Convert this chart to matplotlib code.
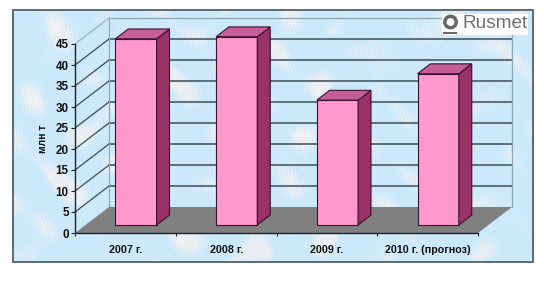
import numpy as np
import matplotlib
matplotlib.use("Agg")
import matplotlib.pyplot as plt
from matplotlib.patches import Polygon, Rectangle, Circle

categories = ["2007 г.", "2008 г.", "2009 г.", "2010 г. (прогноз)"]
values = [44.3, 44.8, 29.7, 36.0]
y_ticks = [0, 5, 10, 15, 20, 25, 30, 35, 40, 45]
y_label = "млн т"

W, H = 544, 282
plt.rcParams["font.family"] = ["Liberation Sans", "DejaVu Sans"]
fig = plt.figure(figsize=(W / 100, H / 100), dpi=100, facecolor="white")

# layout helper axes in pixel coordinates
bg = fig.add_axes([0, 0, 1, 1], zorder=0)
bg.set_xlim(0, W); bg.set_ylim(H, 0); bg.axis("off")

# mottled backdrop (deterministic sine texture)
L, T, R, B = 13, 10, 533, 262
yy, xx = np.mgrid[T:B, L:R].astype(float)
tex = (np.sin(xx * .083 + 1.3 + 2.2 * np.sin(yy * .047)) + np.sin(yy * .121 + 2.6 * np.sin(xx * .053 + .7))
       + .8 * np.sin((xx + yy) * .037 + 5 * np.sin(xx * .019)) + .6 * np.sin((xx - yy) * .091))
speck = np.sin(xx * 1.37 + yy * 2.11) * np.sin(xx * 2.93 - yy * 1.73 + 1)
m = np.clip((tex + 1.1 * speck - 0.9) / 1.2, 0, 1)[..., None]
base = np.array([0.80, 0.915, 0.985]); white = np.array([0.93, 0.94, 0.95])
bg.imshow(base * (1 - m) + white * m, extent=(L, R, B, T), aspect="auto", zorder=0, interpolation="bilinear")
bg.set_xlim(0, W); bg.set_ylim(H, 0)
bg.add_patch(Rectangle((L, T), R - L, B - T, fill=False, ec="#5b6b72", lw=1.4, zorder=3))

# main chart axes: x spans 75..478 px, y 233..44 px
x0, x1, y0, y1 = 75, 478, 233, 44
ax = fig.add_axes([x0 / W, 1 - y0 / H, (x1 - x0) / W, (y0 - y1) / H], zorder=1)
ax.patch.set_alpha(0)
n = len(categories)
ymax = y_ticks[-1]
ax.set_xlim(0, n); ax.set_ylim(0, ymax)

# oblique projection: depth 0 = front, 1 = back wall
DX = 34 / ((x1 - x0) / n)
DY = 26 / ((y0 - y1) / ymax)
def P(x, y, d):
    return (x + DX * d, y + DY * d)

GRID = "#3c4c56"
# floor
ax.add_patch(Polygon([P(0, 0, 0), P(n, 0, 0), P(n, 0, 1), P(0, 0, 1)], fc="#808080", ec="none", zorder=2, clip_on=False))
# grid lines on the walls
for t in y_ticks:
    if t == 0:
        continue
    top = t == ymax
    c1 = "#9fb2bd" if top else GRID
    ax.plot(*zip(P(0, t, 0), P(0, t, 1)), color=c1, lw=.9, zorder=1, clip_on=False)
    ax.plot(*zip(P(0, t, 1), P(n, t, 1)), color="#8fa3ae" if top else GRID, lw=.9 if top else 1.1, zorder=1, clip_on=False)
# wall edges
ax.plot(*zip(P(0, 0, 1), P(0, ymax, 1)), color="#8fa8b8", lw=.9, zorder=1, clip_on=False)
ax.plot(*zip(P(n, 0, 1), P(n, ymax, 1)), color="#8fa8b8", lw=.9, zorder=1, clip_on=False)

# bars
bw = 0.41
d0, d1 = 0.31, 0.69
edge = "#3a1030"
for i, v in enumerate(values):
    a, b = i + .5 - bw / 2, i + .5 + bw / 2
    ax.add_patch(Polygon([P(a, 0, d0), P(b, 0, d0), P(b, v, d0), P(a, v, d0)], fc="#FF99CC", ec=edge, lw=.8, zorder=4, clip_on=False))
    ax.add_patch(Polygon([P(b, 0, d0), P(b, 0, d1), P(b, v, d1), P(b, v, d0)], fc="#993366", ec=edge, lw=.8, zorder=4, clip_on=False))
    ax.add_patch(Polygon([P(a, v, d0), P(b, v, d0), P(b, v, d1), P(a, v, d1)], fc="#C65F98", ec=edge, lw=.8, zorder=4, clip_on=False))

# axes furniture
for s in ("top", "right"):
    ax.spines[s].set_visible(False)
for s in ("left", "bottom"):
    ax.spines[s].set_color("#222222"); ax.spines[s].set_linewidth(1.0); ax.spines[s].set_zorder(5)
ax.set_yticks(y_ticks)
ax.set_xticks(range(n + 1)); ax.set_xticklabels([])
ax.set_xticks([i + .5 for i in range(n)], minor=True)
ax.set_xticklabels(categories, minor=True, fontsize=7.7, fontweight="bold", color="#111111")
ax.tick_params(axis="x", which="minor", length=0, pad=8.5)
ax.tick_params(axis="x", which="major", length=2.5, width=.8, color="#222222")
ax.tick_params(axis="y", length=3, width=.8, color="#222222", labelsize=8.4, pad=1.5, labelcolor="#111111")
for l in ax.get_yticklabels():
    l.set_fontweight("bold")
bg.text(43, 139, y_label, rotation=90, ha="center", va="center", fontsize=7.4, fontweight="bold", color="#111111", zorder=4)

# logo (overlay)
top = fig.add_axes([0, 0, 1, 1], zorder=2)
top.set_xlim(0, W); top.set_ylim(H, 0); top.axis("off"); top.patch.set_alpha(0)
top.add_patch(Rectangle((442, 14), 86, 21, fc="white", ec="none"))
top.add_patch(Circle((450.5, 22), 5.7, fc="none", ec="#666666", lw=2.5))
top.add_patch(Rectangle((443, 32), 14, 2.2, fc="#666666", ec="none"))
top.text(463, 23.5, "Rusmet", fontsize=13.7, color="#6e6e6e", ha="left", va="center")

fig.savefig("out.png", dpi=100)
